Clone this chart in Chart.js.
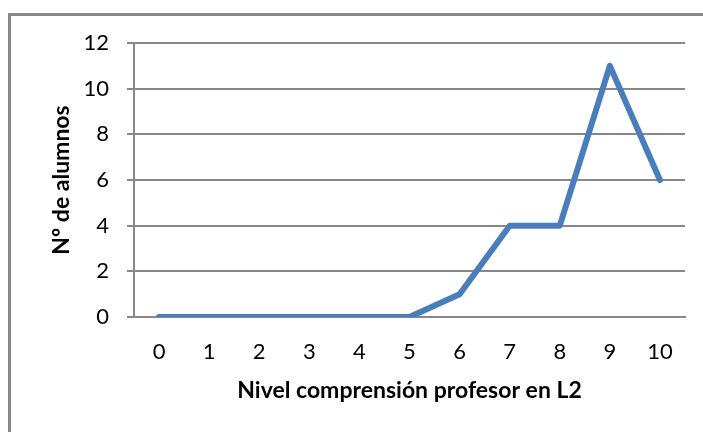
<!DOCTYPE html>
<html>
<head>
<meta charset="utf-8">
<script src="https://cdn.jsdelivr.net/npm/chart.js@4/dist/chart.umd.min.js"></script>
<style>
  html, body { margin: 0; padding: 0; background: #fff; }
  #wrap { position: relative; width: 703px; height: 432px; overflow: hidden; }
  #frame { position: absolute; left: 8px; top: 13px; width: 720px; height: 440px;
           border-top: 3px solid #888; border-left: 3px solid #888; box-sizing: border-box; }
  #c { position: absolute; left: 0; top: 0; }
</style>
</head>
<body>
<div id="wrap">
  <div id="frame"></div>
  <canvas id="c" width="703" height="432"></canvas>
</div>
<script>
// Nivel de comprensión (0–10) y número de alumnos en cada nivel
const niveles = ['0', '1', '2', '3', '4', '5', '6', '7', '8', '9', '10'];
const alumnos = [0, 0, 0, 0, 0, 0, 1, 4, 4, 11, 6];
const yTicks = [0, 2, 4, 6, 8, 10, 12];

const gray = '#888888';
const font = "Lato, 'Open Sans', sans-serif";

new Chart(document.getElementById('c'), {
  type: 'line',
  data: {
    labels: niveles,
    datasets: [{
      data: alumnos,
      borderColor: '#4a7ebb',
      borderWidth: 6,
      borderCapStyle: 'round',
      borderJoinStyle: 'round',
      pointRadius: 0,
      tension: 0,
      fill: false
    }]
  },
  options: {
    responsive: false,
    animation: false,
    events: [],
    layout: { padding: { left: 0, top: 43, right: 18, bottom: 0 } },
    plugins: { legend: { display: false }, tooltip: { enabled: false } },
    scales: {
      x: {
        offset: true,
        grid: { display: false, drawTicks: false },
        border: { display: true, color: gray, width: 2 },
        ticks: { color: '#000', font: { family: font, size: 22 }, padding: 22, maxRotation: 0 },
        title: {
          display: true,
          text: 'Nivel comprensión profesor en L2',
          color: '#000',
          font: { family: font, size: 23, weight: 'bold' },
          padding: { top: 0, bottom: 28 }
        },
        afterFit(scale) { scale.height = 115; }
      },
      y: {
        min: 0,
        max: 12,
        afterBuildTicks(scale) { scale.ticks = yTicks.map(v => ({ value: v })); },
        grid: { color: gray, lineWidth: 2, tickLength: 7, drawTicks: true },
        border: { display: true, color: gray, width: 2 },
        ticks: { color: '#000', font: { family: font, size: 22 }, padding: 18 },
        title: {
          display: true,
          text: 'Nº de alumnos',
          color: '#000',
          font: { family: font, size: 23, weight: 'bold' },
          padding: { top: 48, bottom: 0 }
        },
        afterFit(scale) { scale.width = 134; }
      }
    }
  }
});
</script>
</body>
</html>
